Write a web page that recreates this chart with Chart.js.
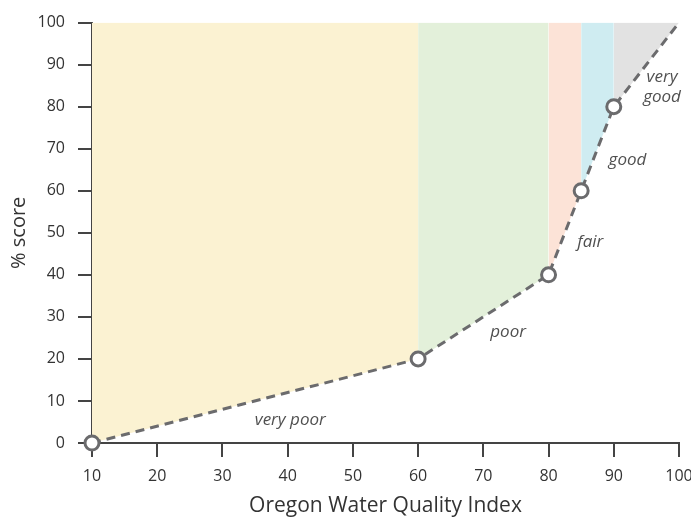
<!DOCTYPE html>
<html>
<head>
<meta charset="utf-8">
<script src="https://cdn.jsdelivr.net/npm/chart.js@4"></script>
<style>
  html, body { margin: 0; padding: 0; background: #ffffff; }
  #wrap { width: 691px; height: 517px; }
</style>
</head>
<body>
<div id="wrap"><canvas id="wqi-chart" width="691" height="517"></canvas></div>
<script>
// Curve breakpoints (Oregon WQI -> % score)
const curveX = [10, 60, 80, 85, 90, 100];
const curveY = [0, 20, 40, 60, 80, 100];
const markerRadius = [7, 7, 7, 7, 7, 0];

// Shaded bands above the curve: [startIndex, endIndex] into the curve arrays
const bandNames = ['very poor', 'poor', 'fair', 'good', 'very good'];
const bandRanges = [[0, 1], [1, 2], [2, 3], [3, 4], [4, 5]];
const bandColors = ['#fbf2d2', '#e3f0da', '#fce3d7', '#cfecf1', '#e2e2e2'];

// Band labels (data coordinates)
const labelText = [['very poor'], ['poor'], ['fair'], ['good'], ['very', 'good']];
const labelX = [40.4, 73.8, 86.4, 92.1, 97.4];
const labelY = [5.4, 26.3, 47.8, 67.2, 84.6];

const xTicks = [10, 20, 30, 40, 50, 60, 70, 80, 90, 100];
const yTicks = [0, 10, 20, 30, 40, 50, 60, 70, 80, 90, 100];

const axisColor = '#444444';
const textColor = '#333333';
const lineColor = '#6b6b6d';
const fontFamily = "'Open Sans', 'DejaVu Sans', sans-serif";

function pts(i0, i1) {
    const out = [];
    for (let i = i0; i <= i1; i++) out.push({ x: curveX[i], y: curveY[i] });
    return out;
}

const datasets = bandRanges.map(function(r, i) {
    return {
        label: bandNames[i],
        data: pts(r[0], r[1]),
        backgroundColor: bandColors[i],
        borderWidth: 0,
        pointRadius: 0,
        fill: { value: 100 },
        order: 2
    };
});

datasets.push({
    label: 'curve',
    data: pts(0, curveX.length - 1),
    borderColor: lineColor,
    borderWidth: 3,
    borderDash: [9, 6],
    pointRadius: markerRadius,
    pointBackgroundColor: '#ffffff',
    pointBorderColor: lineColor,
    pointBorderWidth: 3,
    fill: false,
    clip: false,
    order: 0
});

// Draws the italic band labels at data coordinates
const bandLabels = {
    id: 'bandLabels',
    afterDatasetsDraw(chart) {
        const ctx = chart.ctx;
        const xs = chart.scales.x, ys = chart.scales.y;
        ctx.save();
        ctx.font = "italic 17px " + fontFamily;
        ctx.fillStyle = '#505050';
        ctx.textAlign = 'center';
        ctx.textBaseline = 'middle';
        labelText.forEach(function(lines, i) {
            const px = xs.getPixelForValue(labelX[i]);
            const py = ys.getPixelForValue(labelY[i]);
            const lh = 20;
            lines.forEach(function(t, k) {
                ctx.fillText(t, px, py + (k - (lines.length - 1) / 2) * lh);
            });
        });
        ctx.restore();
    }
};

new Chart(document.getElementById('wqi-chart'), {
    type: 'line',
    data: { datasets: datasets },
    plugins: [bandLabels],
    options: {
        responsive: false,
        animation: false,
        events: [],
        layout: { padding: { top: 20, right: 0, left: 0, bottom: 0 } },
        plugins: {
            legend: { display: false },
            tooltip: { enabled: false }
        },
        scales: {
            x: {
                type: 'linear',
                min: 10,
                max: 100,
                afterBuildTicks: function(s) { s.ticks = xTicks.map(v => ({ value: v })); },
                afterFit: function(s) {
                    s.height = 74;
                    s.paddingRight = 12;
                    s.paddingLeft = 0;
                },
                border: { display: true, color: axisColor, width: 2 },
                grid: { drawOnChartArea: false, drawTicks: true, tickLength: 14, tickColor: axisColor, lineWidth: 2 },
                ticks: { color: textColor, font: { family: fontFamily, size: 16 }, padding: 10, maxRotation: 0 },
                title: {
                    display: true,
                    text: 'Oregon Water Quality Index',
                    color: textColor,
                    font: { family: fontFamily, size: 21, lineHeight: 1 },
                    padding: { top: 0, bottom: 0 }
                }
            },
            y: {
                type: 'linear',
                min: 0,
                max: 100,
                afterBuildTicks: function(s) { s.ticks = yTicks.map(v => ({ value: v })); },
                afterFit: function(s) { s.width = 92; },
                border: { display: true, color: axisColor, width: 2 },
                grid: { drawOnChartArea: false, drawTicks: true, tickLength: 14, tickColor: axisColor, lineWidth: 2 },
                ticks: { color: textColor, font: { family: fontFamily, size: 16 }, padding: 13 },
                title: {
                    display: true,
                    text: '% score',
                    color: textColor,
                    font: { family: fontFamily, size: 20, lineHeight: 1 },
                    padding: { top: 9, bottom: 0 }
                }
            }
        }
    }
});
</script>
</body>
</html>
